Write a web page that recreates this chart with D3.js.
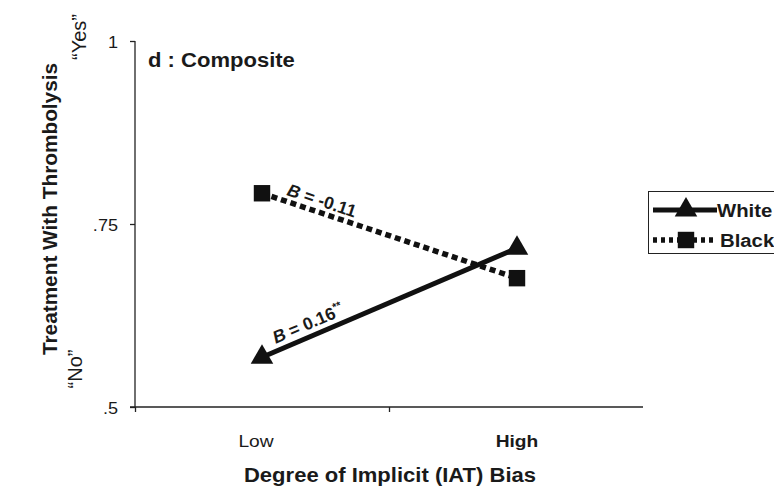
<!DOCTYPE html>
<html><head><meta charset="utf-8">
<script src="https://cdn.jsdelivr.net/npm/d3@7"></script>
<style>body{margin:0;background:#fff}svg{display:block;font-family:"Liberation Sans",Arial,sans-serif}</style>
</head><body><svg id="c" width="774" height="486"></svg>
<script>
const categories = ["Low", "High"];
const seriesNames = ["White", "Black"];
const whiteValues = [0.568, 0.717];
const blackValues = [0.792, 0.676];
const yTicks = [0.5, 0.75, 1];
const yTickLabels = [".5", ".75", "1"];
const slopeLabels = ["B = 0.16", "B = -0.11"];

const SX = 1.13;
const svg = d3.select("#c");
const x = d3.scalePoint().domain(categories).range([262, 517]);
const xAxisScale = d3.scaleLinear().domain([0, 2]).range([135, 643]);
const y = d3.scaleLinear().domain([0.5, 1]).range([407, 41]);

function htext(px, py, txt, size, weight, anchor) {
  return svg.append("text")
    .attr("transform", "translate(" + px + "," + py + ") scale(" + SX + ",1)")
    .attr("text-anchor", anchor || "start").attr("font-size", size)
    .attr("font-weight", weight || "normal").attr("fill", "#1a1a1a").text(txt);
}

// axes
const ya = svg.append("g").attr("transform", "translate(135,0)")
  .call(d3.axisLeft(y).tickValues(yTicks).tickSize(5).tickFormat(""));
ya.select(".domain").attr("d", "M0," + y(1) + "V" + y(0.5)).attr("stroke", "#222").attr("stroke-width", 1.3);
ya.selectAll(".tick line").attr("stroke", "#222").attr("stroke-width", 1.3);
yTicks.forEach((t, i) => htext(118, y(t) + 6.5, yTickLabels[i], 16, "normal", "end"));

const xa = svg.append("g").attr("transform", "translate(0," + y(0.5) + ")")
  .call(d3.axisBottom(xAxisScale).tickValues([0, 1]).tickSize(5).tickFormat(""));
xa.select(".domain").attr("d", "M130,0H643").attr("stroke", "#222").attr("stroke-width", 1.3);
xa.selectAll(".tick line").attr("stroke", "#222").attr("stroke-width", 1.3);

// category labels
categories.forEach((c, i) => htext(x(c) + (i === 0 ? -6 : 0), 447, c, 17, i === 0 ? "normal" : "bold", "middle"));

// titles
htext(390, 482, "Degree of Implicit (IAT) Bias", 19.5, "bold", "middle");
svg.append("text").attr("transform", "translate(57,209) rotate(-90)").attr("text-anchor", "middle")
  .attr("font-size", 20.8).attr("font-weight", "bold").attr("fill", "#1a1a1a")
  .text("Treatment With Thrombolysis");
svg.append("text").attr("transform", "translate(86,37) rotate(-90)").attr("text-anchor", "middle")
  .attr("font-size", 20).attr("fill", "#1a1a1a").text("\u201CYes\u201D");
svg.append("text").attr("transform", "translate(82,369) rotate(-90)").attr("text-anchor", "middle")
  .attr("font-size", 20).attr("fill", "#1a1a1a").text("\u201CNo\u201D");
htext(148, 67, "d : Composite", 19.5, "bold", "start");

// lines
const line = d3.line().x((d, i) => x(categories[i])).y(d => y(d));
svg.append("path").datum(blackValues).attr("d", line).attr("fill", "none")
  .attr("stroke", "#111").attr("stroke-width", 5.5).attr("stroke-dasharray", "6,4");
svg.append("path").datum(whiteValues).attr("d", line).attr("fill", "none")
  .attr("stroke", "#111").attr("stroke-width", 5);

const tri = d3.symbol().type(d3.symbolTriangle).size(220);
const sq = d3.symbol().type(d3.symbolSquare).size(270);
svg.selectAll(".tri").data(whiteValues).join("path")
  .attr("transform", (d, i) => "translate(" + x(categories[i]) + "," + y(d) + ")")
  .attr("d", tri).attr("fill", "#111");
svg.selectAll(".sq").data(blackValues).join("path")
  .attr("transform", (d, i) => "translate(" + x(categories[i]) + "," + y(d) + ")")
  .attr("d", sq).attr("fill", "#111");

// slope labels
function slopeLabel(vals, txt, t, off, sup) {
  const x0 = x(categories[0]), x1 = x(categories[1]);
  const y0 = y(vals[0]), y1 = y(vals[1]);
  const ang = Math.atan2(y1 - y0, x1 - x0) * 180 / Math.PI;
  const px = x0 + (x1 - x0) * t, py = y0 + (y1 - y0) * t;
  const g = svg.append("text").attr("transform", "translate(" + px + "," + py + ") rotate(" + ang + ") translate(0," + off + ")")
    .attr("text-anchor", "middle").attr("font-size", 17.5).attr("font-weight", "bold").attr("fill", "#1a1a1a");
  g.append("tspan").attr("font-style", "italic").text(txt.slice(0, 1));
  g.append("tspan").text(txt.slice(1));
  if (sup) g.append("tspan").attr("dy", -7).attr("font-size", 11).text(sup);
}
slopeLabel(whiteValues, slopeLabels[0], 0.2, -7, "**");
slopeLabel(blackValues, slopeLabels[1], 0.22, -6, null);

// legend
const lg = svg.append("g");
lg.append("rect").attr("x", 648.5).attr("y", 191.5).attr("width", 140).attr("height", 62)
  .attr("fill", "#fff").attr("stroke", "#222").attr("stroke-width", 1);
const legendY = [210, 240];
seriesNames.forEach((s, i) => {
  const yy = legendY[i];
  lg.append("line").attr("x1", 653).attr("x2", 717).attr("y1", yy).attr("y2", yy)
    .attr("stroke", "#111").attr("stroke-width", i === 0 ? 5 : 5.5)
    .attr("stroke-dasharray", i === 0 ? null : "4,4");
  lg.append("path").attr("transform", "translate(686," + yy + ")")
    .attr("d", i === 0 ? tri : sq).attr("fill", "#111");
  svg.append("text").attr("transform", "translate(" + (i === 0 ? 717 : 720) + "," + (yy + 6.5) + ") scale(" + SX + ",1)")
    .attr("font-size", 18).attr("font-weight", "bold").attr("fill", "#1a1a1a").text(s);
});
</script></body></html>
